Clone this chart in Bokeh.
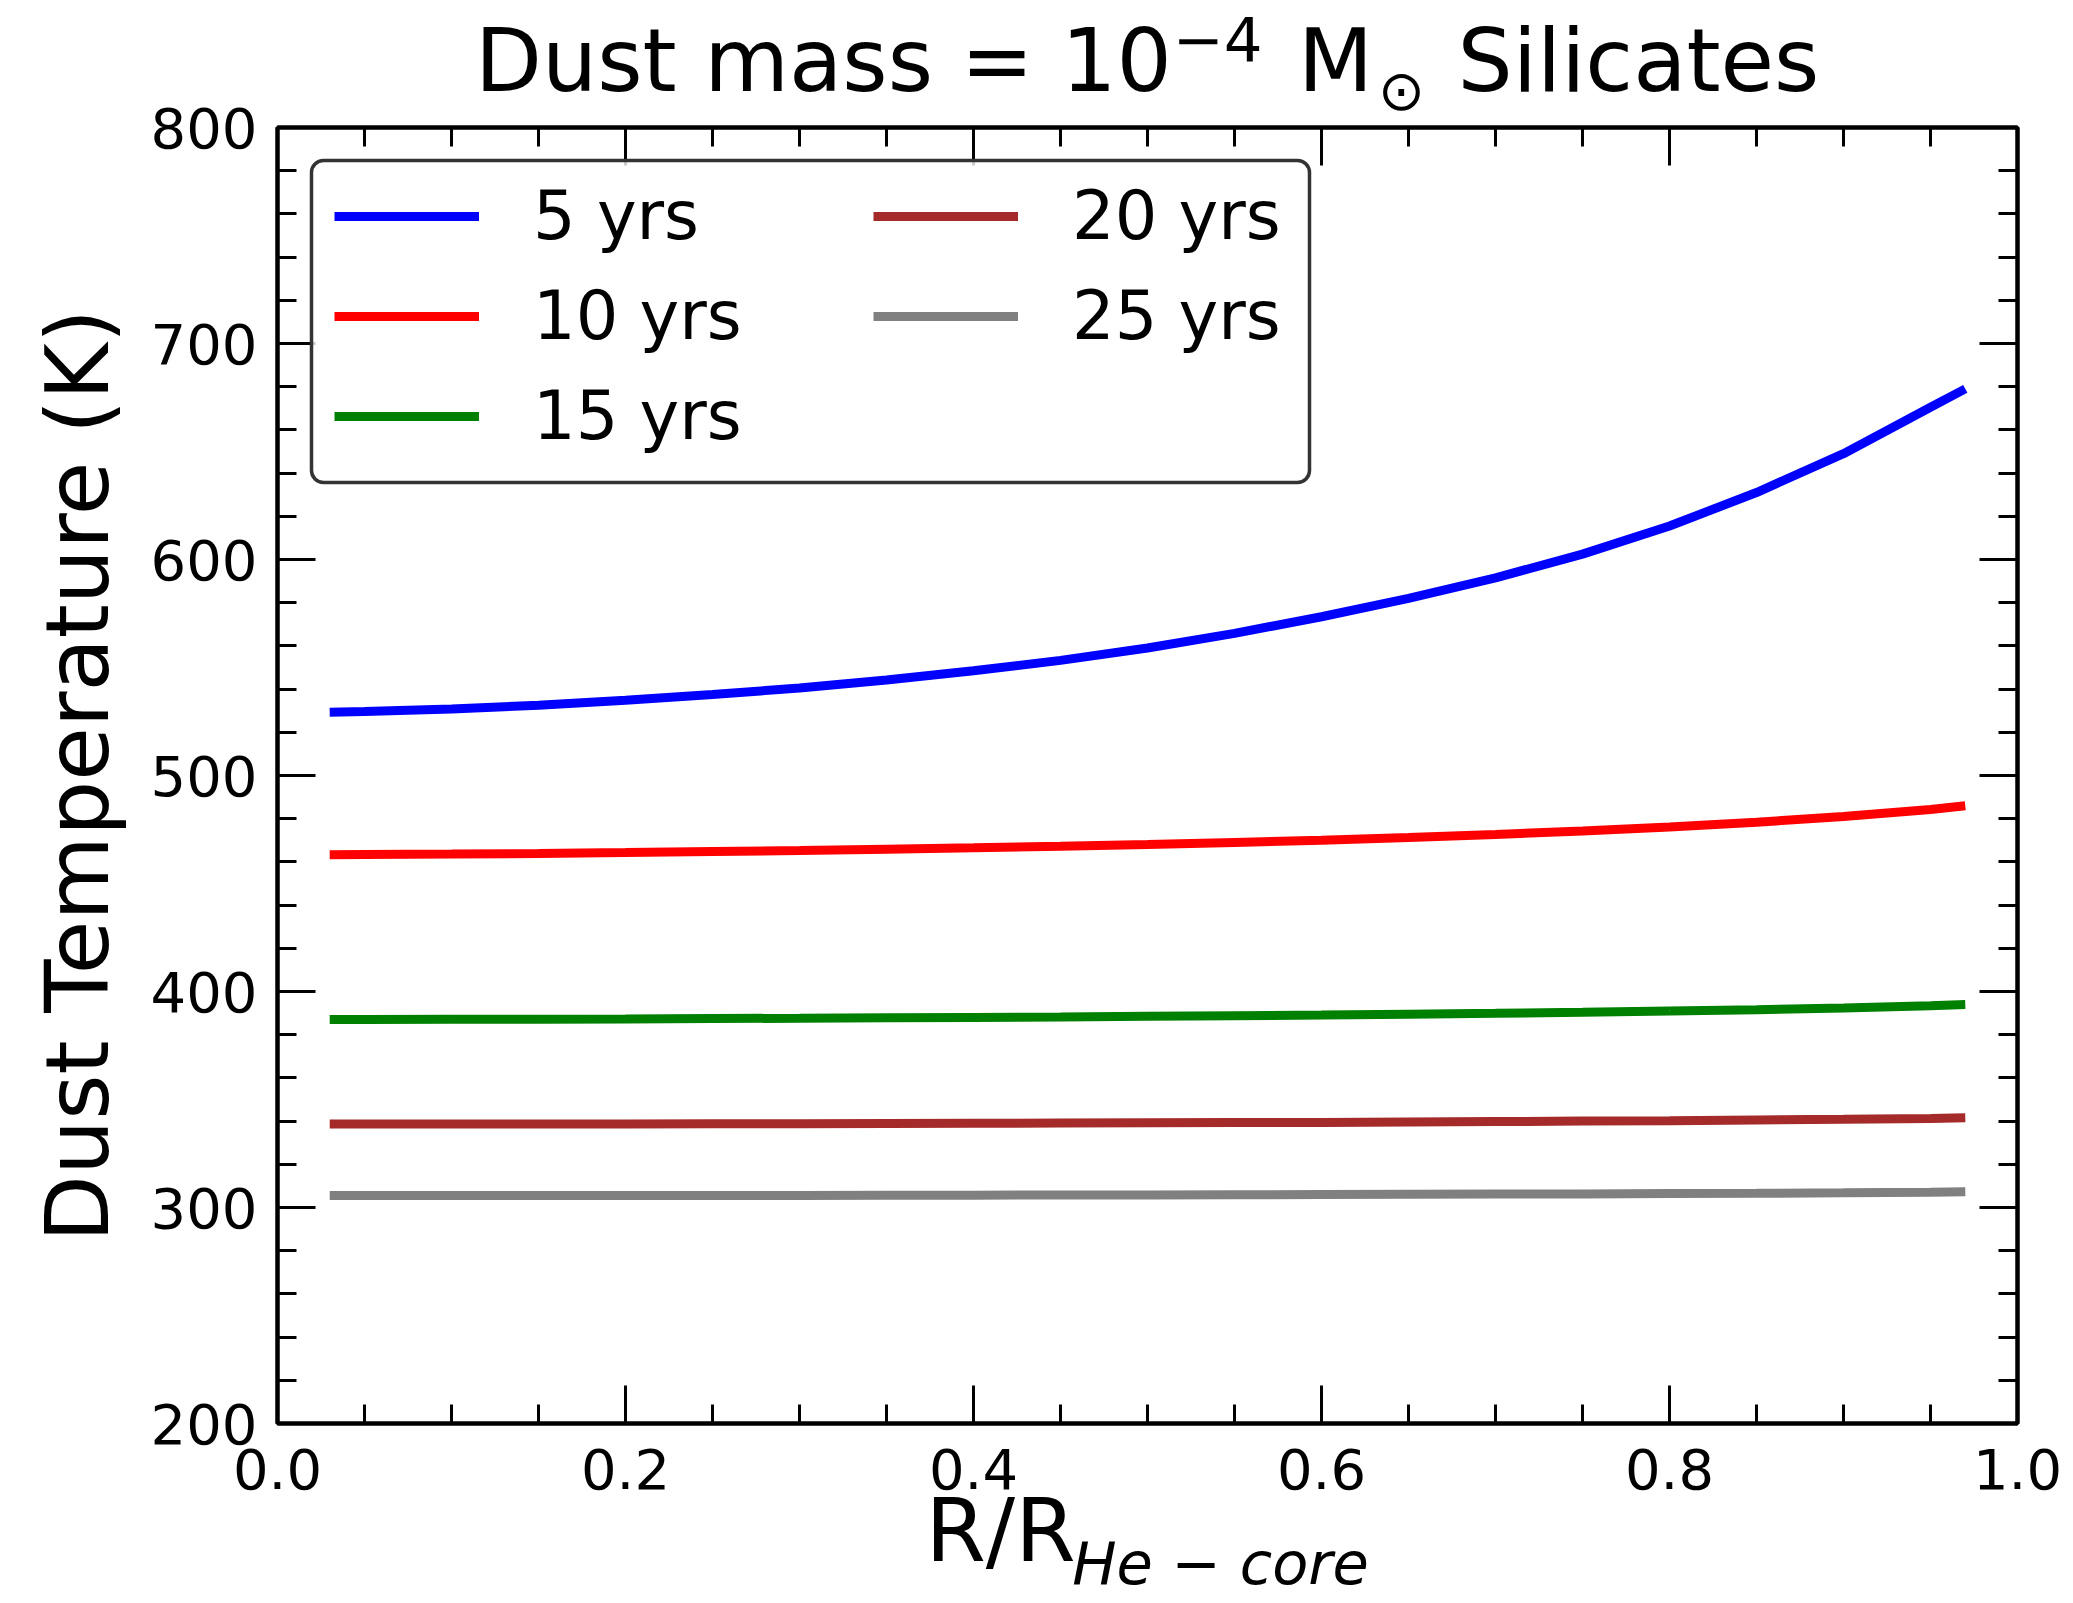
from bokeh.plotting import figure
from bokeh.models import (Range1d, FixedTicker, LinearAxis, Legend, LegendItem,
                          BoxAnnotation, PrintfTickFormatter)
from bokeh.embed import file_html
from bokeh.resources import INLINE

# ---------------------------------------------------------------- data
radius = [0.03, 0.05, 0.10, 0.15, 0.20, 0.25, 0.30, 0.35, 0.40, 0.45, 0.50,
          0.55, 0.60, 0.65, 0.70, 0.75, 0.80, 0.85, 0.90, 0.95, 0.97]

t_5yrs = [529.3, 529.6, 530.8, 532.5, 534.8, 537.5, 540.5, 544.2, 548.5, 553.3,
          559.0, 565.8, 573.5, 582.0, 591.5, 602.5, 615.5, 631.0, 649.0, 670.5, 679.0]
t_10yrs = [463.3, 463.4, 463.6, 463.9, 464.3, 464.8, 465.3, 465.9, 466.5, 467.2,
           468.0, 469.0, 470.0, 471.3, 472.7, 474.3, 476.2, 478.4, 481.0, 484.3, 486.0]
t_15yrs = [387.0, 387.0, 387.1, 387.2, 387.3, 387.5, 387.6, 387.8, 388.0, 388.2,
           388.5, 388.8, 389.1, 389.5, 389.9, 390.4, 391.0, 391.6, 392.4, 393.4, 394.0]
t_20yrs = [338.6, 338.6, 338.6, 338.7, 338.7, 338.8, 338.8, 338.9, 339.0, 339.1,
           339.2, 339.3, 339.4, 339.6, 339.8, 340.0, 340.2, 340.5, 340.8, 341.2, 341.5]
t_25yrs = [305.5, 305.5, 305.5, 305.5, 305.6, 305.6, 305.6, 305.7, 305.7, 305.8,
           305.8, 305.9, 306.0, 306.1, 306.2, 306.3, 306.5, 306.6, 306.8, 307.1, 307.3]

series_labels = ["5 yrs", "10 yrs", "15 yrs", "20 yrs", "25 yrs"]
series_values = [t_5yrs, t_10yrs, t_15yrs, t_20yrs, t_25yrs]
series_colors = ["#0000ff", "#ff0000", "#008000", "#a52a2a", "#808080"]

x_major = [0.0, 0.2, 0.4, 0.6, 0.8, 1.0]
x_minor = [round(i * 0.05, 2) for i in range(21)]
y_major = [200, 300, 400, 500, 600, 700, 800]
y_minor = [200 + 20 * i for i in range(31)]

# ---------------------------------------------------------------- layout
W, H = 2073, 1603
LEFT, RIGHT, TOP, BOTTOM = 277, 2017, 127, 1423
FONT = "DejaVu Sans"
X0, X1, Y0, Y1 = 0.0, 1.0, 200.0, 800.0


def dx(px):
    """canvas pixel column -> x data value"""
    return round(X0 + (px - LEFT) / (RIGHT - LEFT) * (X1 - X0), 5)


def dy(py):
    """canvas pixel row -> y data value"""
    return Y1 - (py - TOP) / (BOTTOM - TOP) * (Y1 - Y0)


p = figure(width=W, height=H, output_backend="svg", toolbar_location=None,
           x_range=Range1d(X0, X1), y_range=Range1d(Y0, Y1),
           min_border_left=LEFT, min_border_right=W - RIGHT,
           min_border_top=TOP, min_border_bottom=H - BOTTOM)
p.background_fill_color = "white"
p.border_fill_color = "white"
p.outline_line_color = "black"
p.outline_line_width = 4
p.xgrid.visible = False
p.ygrid.visible = False


def style_axis(ax, major, minor, labels=True):
    ax.ticker = FixedTicker(ticks=major, minor_ticks=minor)
    ax.axis_line_color = "black"
    ax.axis_line_width = 4
    ax.major_tick_in = 38
    ax.major_tick_out = 0
    ax.minor_tick_in = 19
    ax.minor_tick_out = 0
    ax.major_tick_line_width = 3
    ax.minor_tick_line_width = 3
    ax.major_tick_line_color = "black"
    ax.minor_tick_line_color = "black"
    ax.major_label_text_font = FONT
    ax.major_label_text_font_size = "56px"
    ax.major_label_text_color = "black" if labels else None


xax = p.xaxis[0]
style_axis(xax, x_major, x_minor)
xax.formatter = PrintfTickFormatter(format="%.1f")
xax.major_label_standoff = 25

yax = p.yaxis[0]
style_axis(yax, y_major, y_minor)
yax.major_label_standoff = 20
yax.axis_label = "Dust Temperature (K)"
yax.axis_label_text_font = FONT
yax.axis_label_text_font_size = "87px"
yax.axis_label_text_font_style = "normal"
yax.axis_label_text_color = "black"
yax.axis_label_standoff = 19

top_axis = LinearAxis()
style_axis(top_axis, x_major, x_minor, labels=False)
p.add_layout(top_axis, "above")
right_axis = LinearAxis()
style_axis(right_axis, y_major, y_minor, labels=False)
p.add_layout(right_axis, "right")


def text_axis(side, centers_px, texts, size, standoff, style="normal"):
    """A bare axis used only to set text pieces along the top or bottom edge."""
    ticks = [dx(c) for c in centers_px]
    ax = LinearAxis(ticker=FixedTicker(ticks=ticks, minor_ticks=[]),
                    major_label_overrides={t: s for t, s in zip(ticks, texts)})
    ax.axis_line_color = None
    ax.major_tick_line_color = None
    ax.minor_tick_line_color = None
    ax.major_tick_in = 0
    ax.major_tick_out = 0
    ax.minor_tick_in = 0
    ax.minor_tick_out = 0
    ax.major_label_text_font = FONT
    ax.major_label_text_font_size = f"{size}px"
    ax.major_label_text_font_style = style
    ax.major_label_text_color = "black"
    ax.major_label_standoff = standoff
    p.add_layout(ax, side)
    return ax


# title: Dust mass = 10^-4 M_sun Silicates (pieces stacked outward from the frame)
text_axis("above", [1401], ["\u2299"], 56, 5)
text_axis("above", [823, 1335, 1638], ["Dust mass = 10", "M", "Silicates"], 87, -57)
text_axis("above", [1217], ["\u22124"], 61, -54)

# x axis label: R / R_{He-core}
text_axis("below", [1220], ["He \u2212 core"], 59, 37, style="italic")
text_axis("below", [1000], ["R/R"], 87, -121)

# ---------------------------------------------------------------- curves
renderers = []
for vals, col in zip(series_values, series_colors):
    r = p.line(radius, vals, line_color=col, line_width=9, line_cap="butt")
    renderers.append(r)

# ---------------------------------------------------------------- legend
legend_box = BoxAnnotation(left=dx(311), right=dx(1309), top=dy(160), bottom=dy(482),
                           fill_color="white", fill_alpha=0.8,
                           line_color="#333333", line_alpha=1.0, line_width=3.5,
                           border_radius=12)
p.add_layout(legend_box)

ITEM_H, GAP = 78, 22


def make_legend(idx, left_px, top_px):
    n = len(idx)
    height = n * ITEM_H + (n - 1) * GAP
    leg = Legend(items=[LegendItem(label=series_labels[i], renderers=[renderers[i]]) for i in idx],
                 location=(left_px - LEFT, BOTTOM - (top_px + height)),
                 orientation="vertical", padding=0, margin=0, spacing=GAP,
                 glyph_width=145, glyph_height=ITEM_H, label_height=ITEM_H,
                 label_standoff=54, label_text_font=FONT, label_text_font_size="67px",
                 label_text_color="black",
                 border_line_color=None, background_fill_alpha=0)
    p.add_layout(leg)


make_legend([0, 1, 2], 334, 177)
make_legend([3, 4], 873, 177)

open("out.html", "w").write(file_html(p, INLINE))
